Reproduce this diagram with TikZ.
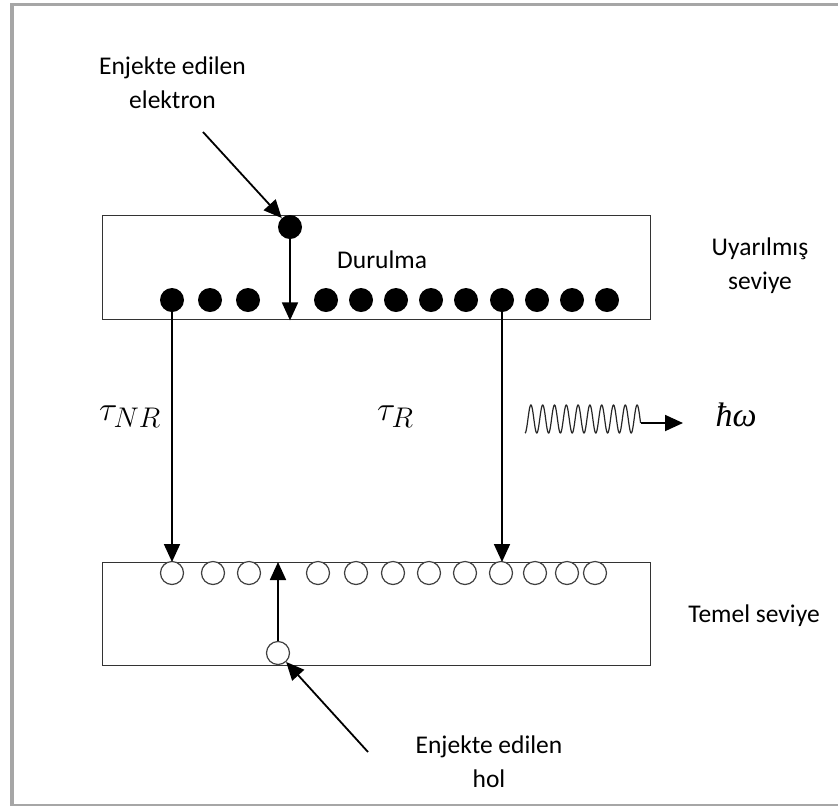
\documentclass[tikz,border=0pt]{standalone}
\usepackage{graphicx}
\usepackage{fontspec}
\setmainfont{Carlito}
\newfontfamily\symserif{Liberation Serif}
\usetikzlibrary{arrows.meta}
\definecolor{framegray}{HTML}{A6A6A6}
\newcommand{\bigmath}[1]{\scalebox{1.37}{\Huge$#1$}}
\begin{document}
\begin{tikzpicture}[x=1pt,y=-1pt,
  lbl/.style={font=\fontsize{25.5}{34}\selectfont, text=black, align=center, inner sep=0pt},
  mathlbl/.style={inner sep=0pt},
  band/.style={rectangle, draw=black!80, line width=1.4pt, inner sep=0pt, anchor=north west},
  electron/.style={circle, fill=black, minimum size=24pt, inner sep=0pt},
  hole/.style={circle, draw=black!75, fill=white, line width=1.2pt, minimum size=23pt, inner sep=0pt},
  arr/.style={line width=1.8pt, -{Triangle[length=18pt,width=16pt]}},
  framestyle/.style={draw=framegray}
]
\useasboundingbox (0,0) rectangle (838,807);

% outer frame (left, top and bottom edges)
\draw[framestyle, line width=4pt] (12,3) -- (12,806);
\draw[framestyle, line width=3pt] (10,4.5) -- (838,4.5);
\draw[framestyle, line width=2pt] (10,805) -- (838,805);

% energy bands
\node[band, minimum width=548pt, minimum height=104pt] (upper) at (102,215) {};
\node[band, minimum width=548pt, minimum height=103pt] (lower) at (102,562) {};

% electrons in the excited level
\foreach \i/\xx in {1/172,2/210,3/248,4/326,5/361,6/396,7/431,8/466,9/502,10/537,11/572,12/607}
  \node[electron] (e\i) at (\xx,300) {};
\node[electron] (e0) at (290,227) {};

% holes in the ground level
\foreach \i/\xx in {1/172,2/213,3/249,4/318,5/356,6/393,7/429,8/465,9/501,10/535,11/567,12/595}
  \node[hole] (h\i) at (\xx,573) {};
\node[hole] (h0) at (278,653) {};

% labels (base anchor sits on the last line)
\node[lbl, anchor=base] (inje) at (172.5,108) {Enjekte edilen\\elektron};
\node[lbl, anchor=base west] (dur) at (337,268) {Durulma};
\node[lbl, anchor=base] (exc) at (760,289) {Uyarılmış\\seviye};
\node[lbl, anchor=base] (gnd) at (754,622) {Temel seviye};
\node[lbl, anchor=base] (injh) at (489,787) {Enjekte edilen\\hol};
\node[mathlbl, anchor=base west] (tnr) at (99,420) {\bigmath{\tau_{NR}}};
\node[mathlbl, anchor=base west] (tr) at (377,420) {\bigmath{\tau_R}};
\node[mathlbl, anchor=base, font=\symserif\itshape\fontsize{34}{40}\selectfont] (hw) at (736,426) {ħω};

% injection and relaxation arrows
\coordinate (ein) at (203,132);
\coordinate (hin) at (368,752);
\draw[arr] (ein) -- (e0);
\draw[arr] (e0) -- (e0 |- upper.south);
\draw[arr] (hin) -- (h0);
\draw[arr] (h0) -- (h0 |- lower.north);

% transitions
\draw[arr] (e1) -- (e1 |- lower.north);
\draw[arr] (e9) -- (e9 |- lower.north);

% emitted photon
\draw[line width=1.2pt, black!85] plot[domain=0:9.796, samples=400, smooth]
  ({525+11.8*\x},{419+14*cos(360*\x)});
\coordinate (wend) at (640.6,423);
\coordinate (wtip) at (683,423);
\draw[arr] (wend) -- (wtip);
\end{tikzpicture}
\end{document}
